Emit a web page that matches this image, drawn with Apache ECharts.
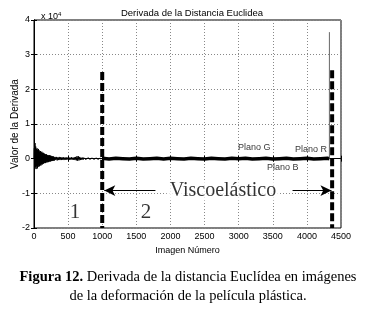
<!DOCTYPE html>
<html><head><meta charset="utf-8">
<script src="https://cdn.jsdelivr.net/npm/echarts@6/dist/echarts.min.js"></script>
<style>html,body{margin:0;padding:0;background:#fff}#c{width:367px;height:326px}</style>
</head><body><div id="c"></div>
<script>
// Axis ticks (values in units of 1e4)
const xTicks = [0,500,1000,1500,2000,2500,3000,3500,4000,4500];
const yTicks = [-2,-1,0,1,2,3,4];

// Derivative noise, images 0..295 (step 5)
const noiseStart1 = 0, noiseStep1 = 5;
const noise1 = [
 0.02,0.3,-0.15,0.45,-0.25,0.35,-0.3,0.28,-0.22,0.3,
 -0.28,0.25,-0.24,0.28,-0.2,0.24,-0.22,0.2,-0.18,0.22,
 -0.2,0.18,-0.16,0.2,-0.17,0.16,-0.15,0.17,-0.14,0.15,
 -0.12,0.14,-0.13,0.12,-0.12,0.13,-0.1,0.12,-0.11,0.1,
 -0.09,0.1,-0.1,0.09,-0.08,0.1,-0.08,0.08,-0.08,0.09,
 -0.07,0.07,-0.07,0.06,-0.06,0.07,-0.05,0.06,-0.06,0.05
];
// images 300..990 (step 10)
const noiseStart2 = 300, noiseStep2 = 10;
const noise2 = [
 -0.05,0.05,-0.04,0.05,-0.05,0.04,-0.04,0.05,-0.04,0.04,
 -0.04,0.04,-0.03,0.04,-0.04,0.03,-0.03,0.04,-0.03,0.03,
 -0.03,0.04,-0.03,0.03,-0.03,0.04,-0.03,0.03,-0.03,0.04,
 -0.04,0.05,-0.05,0.07,-0.06,0.07,-0.05,0.05,-0.04,0.03,
 -0.03,0.03,-0.03,0.03,-0.02,0.03,-0.03,0.02,-0.02,0.03,
 -0.02,0.02,-0.02,0.02,-0.02,0.02,-0.02,0.02,-0.02,0.02,
 -0.02,0.02,-0.02,0.02,-0.02,0.02,-0.02,0.02,-0.02,0.02
];
// images 1000..4300 (step 100), stable phase
const noiseStart3 = 1000, noiseStep3 = 100;
const noise3 = [0.01,-0.01,0.01,0,-0.01,0.01,-0.01,0,0.01,-0.01,0.01,0,-0.01,0.01,0,-0.01,0.01,0,-0.01,0.01,0,0.01,-0.01,0,0.01,-0.01,0,0.01,-0.01,0,0.01,-0.01,0,0.01];
// final spike
const spikeX = 4330, spikeTop = 3.65;
// phase boundaries
const boundaryX = [1000, 4370];
const boundaryTop = [2.5, 2.55];
const boundaryBottom = -2;
// annotations
const planeLabels = [
 {name:'Plano G', x:2990, y:0.32},
 {name:'Plano R', x:3826, y:0.26},
 {name:'Plano B', x:3415, y:-0.26}
];
const zoneLabels = [{name:'1', x:600, y:-1.55},{name:'2', x:1640, y:-1.55}];
const viscoLabel = {name:'Viscoelástico', x:2770, y:-0.92};
const arrowLeft = [[1780,-0.92],[1030,-0.92]];
const arrowRight = [[3790,-0.92],[4360,-0.92]];

function build(start, step, vals){ return vals.map((v,i)=>[start+step*i, v]); }
const trace1 = build(noiseStart1, noiseStep1, noise1).concat(build(noiseStart2, noiseStep2, noise2));
const trace2 = build(noiseStart3, noiseStep3, noise3);

const sans = 'Liberation Sans';
const serif = 'Liberation Serif';

const series = [
 {type:'line', data:trace1, symbol:'none', lineStyle:{color:'#000', width:1}, silent:true},
 {type:'line', data:trace2.concat([[spikeX,0]]), symbol:'none', lineStyle:{color:'#000', width:3.5}, silent:true},
 {type:'line', data:[[spikeX,0],[spikeX,spikeTop]], symbol:'none', lineStyle:{color:'#666', width:1}, silent:true},
];
boundaryX.forEach((bx,i)=>{
 series.push({type:'line', data:[[bx,boundaryTop[i]],[bx,boundaryBottom]], symbol:'none',
   lineStyle:{color:'#000', width:4, type:[8,3]}, silent:true, z:5});
});
series.push({type:'line', data:[], silent:true, z:6,
  markLine:{silent:true, symbol:['none','arrow'], symbolSize:[8,11], label:{show:false}, animation:false,
    lineStyle:{color:'#000', width:1.2, type:'solid'},
    data:[arrowLeft, arrowRight].map(a=>[{coord:a[0]},{coord:a[1]}])}});
series.push({type:'scatter', symbolSize:0, silent:true,
  data: planeLabels.map(p=>({value:[p.x,p.y], label:{show:true, formatter:p.name, position:'inside', align:'left', fontFamily:sans, fontSize:9, color:'#000'}}))});
series.push({type:'scatter', symbolSize:0, silent:true, z:7,
  data: zoneLabels.map(p=>({value:[p.x,p.y], label:{show:true, formatter:p.name, position:'inside', fontFamily:serif, fontSize:21, color:'#000'}}))
   .concat([{value:[viscoLabel.x, viscoLabel.y], label:{show:true, formatter:viscoLabel.name, position:'inside', fontFamily:serif, fontSize:20, color:'#000', backgroundColor:'#fff', padding:[0,3]}}])});

const chart = echarts.init(document.getElementById('c'), null, {renderer:'canvas'});
chart.setOption({
 animation:false,
 backgroundColor:'#fff',
 title:[
  {text:'Derivada de la Distancia Euclidea', left:187, top:3, textAlign:'center', textStyle:{fontFamily:sans, fontSize:9.5, fontWeight:'normal', color:'#000'}},
  {text:'x 10{s|4}', left:36, top:6, textStyle:{fontFamily:sans, fontSize:9, fontWeight:'normal', color:'#000', rich:{s:{fontSize:6, verticalAlign:'top', padding:[0,0,6,0]}}}},
  {text:'{b|Figura 12.} Derivada de la distancia Euclídea en imágenes\nde la deformación de la película plástica.', left:183, top:263, textAlign:'center',
   textStyle:{fontFamily:serif, fontSize:14.5, fontWeight:'normal', color:'#000', lineHeight:19, align:'center',
   rich:{b:{fontFamily:serif, fontSize:14.5, fontWeight:'bold', color:'#000'}}}}
 ],
 grid:{left:34, right:26, top:20, bottom:98, show:true, borderColor:'#000', borderWidth:1, containLabel:false, outerBoundsMode:'none'},
 xAxis:[{type:'value', min:0, max:4500, interval:500, name:'Imagen Número', nameLocation:'middle', nameGap:14,
   nameTextStyle:{fontFamily:sans, fontSize:9, color:'#000'},
   axisLine:{lineStyle:{color:'#000'}}, axisTick:{inside:true, length:3, lineStyle:{color:'#000'}},
   axisLabel:{fontFamily:sans, fontSize:9, color:'#000', margin:4, formatter:v=>xTicks.includes(v)?String(v):''},
   splitLine:{show:true, lineStyle:{color:'#888', type:[1,2], width:1}}},
  {type:'value', position:'top', min:0, max:4500, interval:500, axisLine:{lineStyle:{color:'#000'}},
   axisTick:{inside:true, length:3, lineStyle:{color:'#000'}}, axisLabel:{show:false}, splitLine:{show:false}}],
 yAxis:[{type:'value', min:-2, max:4, interval:1, name:'Valor de la Derivada', nameLocation:'middle', nameGap:14, nameRotate:90, nameMoveOverlap:false,
   nameTextStyle:{fontFamily:sans, fontSize:10, color:'#000'},
   axisLine:{lineStyle:{color:'#000'}}, axisTick:{inside:true, length:3, lineStyle:{color:'#000'}},
   axisLabel:{fontFamily:sans, fontSize:9, color:'#000', margin:4, formatter:v=>yTicks.includes(v)?String(v):''},
   splitLine:{show:true, lineStyle:{color:'#888', type:[1,2], width:1}}},
  {type:'value', position:'right', min:-2, max:4, interval:1, axisLine:{lineStyle:{color:'#000'}},
   axisTick:{inside:true, length:3, lineStyle:{color:'#000'}}, axisLabel:{show:false}, splitLine:{show:false}}],
 series: series
});
</script></body></html>
